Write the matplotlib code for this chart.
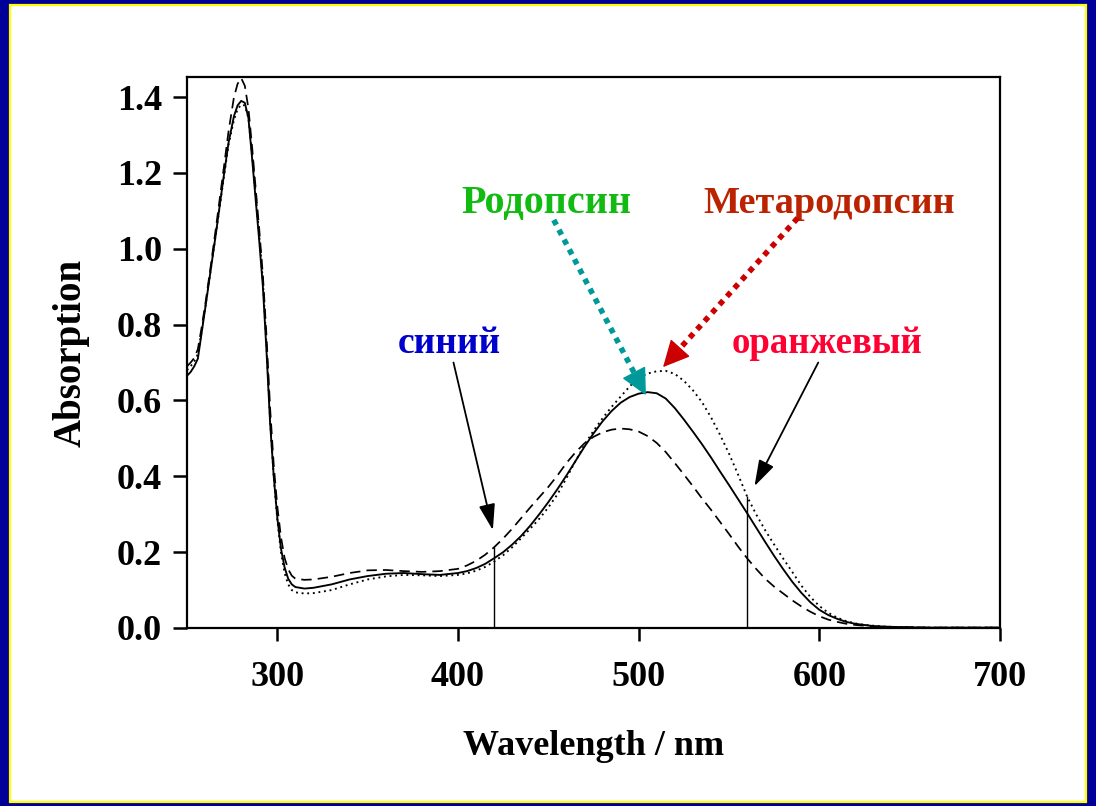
import matplotlib
matplotlib.use("Agg")
import matplotlib.pyplot as plt
from matplotlib.patches import Rectangle

plt.rcParams['font.family'] = ['Liberation Serif', 'DejaVu Serif']
plt.rcParams['font.weight'] = 'bold'

# ---------------- data ----------------
wavelength = [250, 252, 254, 256, 258, 260, 263, 266, 270, 273, 276, 278, 280, 282, 284, 286, 288,
              290, 292, 294, 296, 298, 300, 302, 304, 306, 308, 310, 315, 320,
              330, 340, 350, 360, 370, 380, 390,
              400, 405, 410, 415, 420, 425, 430, 435, 440, 445, 450, 455, 460, 465, 470, 475,
              480, 485, 490, 495, 500, 505, 510, 515, 520, 525, 530, 535, 540, 545, 550, 555,
              560, 565, 570, 575, 580, 585, 590, 595, 600, 605, 610, 615, 620, 625, 630, 635,
              640, 650, 660, 670, 680, 690, 700]

# solid line (Родопсин)
rhodopsin = [0.665, 0.675, 0.690, 0.710, 0.775, 0.840, 0.940, 1.040, 1.180, 1.280, 1.350, 1.378, 1.390, 1.385, 1.345, 1.240, 1.130,
             1.020, 0.900, 0.730, 0.540, 0.400, 0.290, 0.210, 0.160, 0.130, 0.115, 0.108, 0.104, 0.106,
             0.115, 0.128, 0.137, 0.143, 0.145, 0.142, 0.140,
             0.145, 0.150, 0.158, 0.169, 0.184, 0.200, 0.220, 0.243, 0.270, 0.300, 0.332, 0.366, 0.402, 0.440, 0.478, 0.513,
             0.545, 0.572, 0.594, 0.609, 0.618, 0.622, 0.619, 0.605, 0.580, 0.550, 0.518, 0.485, 0.450, 0.413, 0.377, 0.340,
             0.303, 0.265, 0.227, 0.190, 0.155, 0.122, 0.093, 0.068, 0.048, 0.034, 0.024, 0.016, 0.011, 0.008, 0.005, 0.004,
             0.003, 0.002, 0.001, 0.001, 0.001, 0.001, 0.001]

# dashed line
dashed_series = [0.690, 0.700, 0.712, 0.735, 0.790, 0.850, 0.950, 1.055, 1.200, 1.310, 1.400, 1.435, 1.450, 1.430, 1.370, 1.270, 1.160,
                 1.050, 0.930, 0.770, 0.580, 0.430, 0.320, 0.240, 0.185, 0.155, 0.138, 0.130, 0.127, 0.128,
                 0.135, 0.145, 0.152, 0.153, 0.150, 0.148, 0.150,
                 0.156, 0.165, 0.177, 0.193, 0.213, 0.236, 0.262, 0.290, 0.318, 0.345, 0.372, 0.402, 0.435, 0.463, 0.487, 0.504,
                 0.516, 0.523, 0.526, 0.524, 0.518, 0.506, 0.488, 0.464, 0.435, 0.405, 0.374, 0.342, 0.312, 0.280, 0.248, 0.215,
                 0.184, 0.156, 0.130, 0.109, 0.091, 0.073, 0.057, 0.043, 0.031, 0.022, 0.016, 0.011, 0.008, 0.006, 0.004, 0.003,
                 0.002, 0.002, 0.001, 0.001, 0.001, 0.001, 0.001]

# dotted line (Метародопсин)
metarhodopsin = [0.680, 0.690, 0.703, 0.722, 0.780, 0.842, 0.940, 1.040, 1.175, 1.275, 1.340, 1.368, 1.380, 1.378, 1.345, 1.250, 1.145,
                 1.035, 0.915, 0.745, 0.550, 0.400, 0.285, 0.200, 0.145, 0.115, 0.100, 0.094, 0.091, 0.092,
                 0.100, 0.115, 0.128, 0.136, 0.140, 0.139, 0.137,
                 0.140, 0.144, 0.151, 0.161, 0.175, 0.192, 0.213, 0.237, 0.262, 0.288, 0.318, 0.352, 0.395, 0.440, 0.483, 0.520,
                 0.553, 0.583, 0.610, 0.637, 0.660, 0.671, 0.677, 0.678, 0.670, 0.652, 0.627, 0.596, 0.556, 0.510, 0.460, 0.405,
                 0.347, 0.300, 0.258, 0.220, 0.183, 0.148, 0.112, 0.082, 0.058, 0.040, 0.027, 0.018, 0.012, 0.008, 0.006, 0.004,
                 0.003, 0.002, 0.001, 0.001, 0.001, 0.001, 0.001]

marker_wavelengths = [420, 560]
x_ticks = [300, 400, 500, 600, 700]
y_ticks = [0.0, 0.2, 0.4, 0.6, 0.8, 1.0, 1.2, 1.4]

# ---------------- figure ----------------
W, H = 1096, 806
fig = plt.figure(figsize=(W / 100, H / 100), dpi=100)
fig.patch.set_facecolor('#000099')
fig.patches.append(Rectangle((10 / W, 4 / H), 1076 / W, 797 / H, transform=fig.transFigure,
                             facecolor='white', edgecolor='#ffff00', linewidth=1.6, zorder=-10))

ax = fig.add_axes([187 / W, (H - 628) / H, (1000 - 187) / W, (628 - 77) / H])
ax.set_facecolor('white')

ax.plot(wavelength, rhodopsin, color='black', lw=1.35, ls='-')
ax.plot(wavelength, dashed_series, color='black', lw=1.25, ls=(0, (6, 3.5)))
ax.plot(wavelength, metarhodopsin, color='black', lw=1.35, ls=(0, (1, 2.0)))

# vertical marker lines at 420 and 560 nm
h420 = dashed_series[wavelength.index(marker_wavelengths[0])]
h560 = metarhodopsin[wavelength.index(marker_wavelengths[1])]
ax.vlines(marker_wavelengths, 0, [h420, h560], color='black', lw=1.0)

ax.set_xlim(250, 700)
ax.set_ylim(0, 1.453)
ax.set_xticks(x_ticks)
ax.set_yticks(y_ticks)
ax.set_yticklabels([f'{v:.1f}' for v in y_ticks])
for s in ax.spines.values():
    s.set_linewidth(1.6)
ax.tick_params(axis='both', direction='out', width=1.8, labelsize=26)
ax.tick_params(axis='x', length=9, pad=15)
ax.tick_params(axis='y', length=10, pad=8)

ax.set_xlabel('Wavelength / nm', fontsize=26, fontweight='bold')
ax.xaxis.set_label_coords(0.5, -0.185)
ax.set_ylabel('Absorption', fontsize=28, fontweight='bold')
ax.yaxis.set_label_coords(-0.12, 0.5)

# ---------------- annotations ----------------
ax.text(449, 1.094, 'Родопсин', color='#11bb11', fontsize=29, ha='center', va='baseline')
ax.text(605.5, 1.094, 'Метародопсин', color='#bb2200', fontsize=27.5, ha='center', va='baseline')
ax.text(395, 0.725, 'синий', color='#0000cc', fontsize=27, ha='center', va='baseline')
ax.text(604, 0.725, 'оранжевый', color='#ff0033', fontsize=26.5, ha='center', va='baseline')

def thick_dotted_arrow(start, end, color):
    # shaft
    fx = start[0] + (end[0] - start[0]) * 0.9
    fy = start[1] + (end[1] - start[1]) * 0.9
    ax.plot([start[0], fx], [start[1], fy], color=color, lw=4.0, ls=(0, (1, 1)),
            solid_capstyle='butt', dash_capstyle='butt', zorder=5)
    ax.annotate('', xy=end, xytext=(fx, fy),
                arrowprops=dict(arrowstyle='-|>,head_length=0.85,head_width=0.42',
                                mutation_scale=20, color=color, lw=1.0, shrinkA=0, shrinkB=0),
                zorder=6)

thick_dotted_arrow((453, 1.076), (504, 0.614), '#009999')
thick_dotted_arrow((588, 1.081), (513.5, 0.688), '#cc0000')

black_arrow = dict(arrowstyle='-|>,head_length=0.8,head_width=0.25', mutation_scale=20,
                   color='black', lw=1.3, shrinkA=0, shrinkB=0)
ax.annotate('', xy=(419.3, 0.258), xytext=(397.5, 0.700), arrowprops=black_arrow)
ax.annotate('', xy=(564.1, 0.374), xytext=(599.4, 0.700), arrowprops=black_arrow)

fig.savefig('out.png', dpi=100, facecolor=fig.get_facecolor())
